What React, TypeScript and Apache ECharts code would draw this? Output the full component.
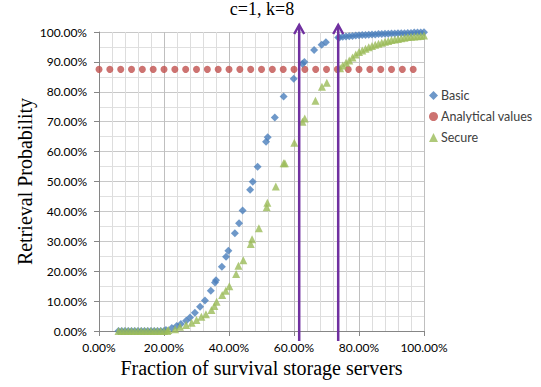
import React, { useEffect, useRef } from "react";
import * as echarts from "echarts";

const chartTitle = "c=1, k=8";
const xAxisTitle = "Fraction of survival storage servers";
const yAxisTitle = "Retrieval Probability";
const seriesNames = ["Basic", "Analytical values", "Secure"];

const basicX = [
  0.06, 0.07, 0.08, 0.09, 0.10, 0.11, 0.12, 0.13, 0.14, 0.15, 0.16, 0.17, 0.18, 0.19, 0.20,
  0.206, 0.224, 0.239, 0.252, 0.268, 0.28, 0.295, 0.311, 0.326, 0.344, 0.357, 0.36, 0.378,
  0.391, 0.398, 0.418, 0.431, 0.442, 0.465, 0.473, 0.488, 0.514, 0.519, 0.541, 0.568, 0.599,
  0.626, 0.632, 0.662, 0.685, 0.698, 0.736,
  0.74, 0.75, 0.76, 0.77, 0.78, 0.79, 0.80, 0.81, 0.82, 0.83, 0.84, 0.85, 0.86, 0.87, 0.88,
  0.89, 0.90, 0.91, 0.92, 0.93, 0.94, 0.95, 0.96, 0.97, 0.98, 0.99, 1.0,
];
const basicY = [
  0, 0, 0, 0, 0, 0, 0, 0, 0, 0, 0, 0, 0, 0, 0,
  0.003, 0.01, 0.017, 0.023, 0.034, 0.045, 0.061, 0.081, 0.102, 0.135, 0.162, 0.17, 0.215,
  0.248, 0.268, 0.327, 0.36, 0.403, 0.472, 0.499, 0.549, 0.633, 0.648, 0.714, 0.784, 0.844,
  0.894, 0.9, 0.94, 0.957, 0.966, 0.982,
  0.982, 0.984, 0.985, 0.986, 0.987, 0.988, 0.989, 0.99, 0.99, 0.991, 0.992, 0.992, 0.993,
  0.993, 0.994, 0.994, 0.995, 0.995, 0.996, 0.996, 0.996, 0.997, 0.997, 0.998, 0.998, 0.998,
  0.999,
];

const analyticX = [
  0, 1 / 30, 2 / 30, 3 / 30, 4 / 30, 5 / 30, 6 / 30, 7 / 30, 8 / 30, 9 / 30, 10 / 30,
  11 / 30, 12 / 30, 13 / 30, 14 / 30, 15 / 30, 16 / 30, 17 / 30, 18 / 30, 19 / 30, 20 / 30,
  21 / 30, 22 / 30, 23 / 30, 24 / 30, 25 / 30, 26 / 30, 27 / 30, 28 / 30, 29 / 30,
];
const analyticY = analyticX.map(() => 0.875);

const secureX = [
  0.06, 0.07, 0.08, 0.09, 0.10, 0.11, 0.12, 0.13, 0.14, 0.15, 0.16, 0.17, 0.18, 0.19, 0.20,
  0.21, 0.213, 0.234, 0.249, 0.268, 0.285, 0.30, 0.315, 0.329, 0.346, 0.355, 0.362, 0.379,
  0.39, 0.401, 0.422, 0.429, 0.444, 0.467, 0.471, 0.492, 0.516, 0.518, 0.544, 0.568, 0.572,
  0.601, 0.626, 0.633, 0.666, 0.686, 0.701, 0.742,
  0.75, 0.76, 0.77, 0.78, 0.79, 0.80, 0.81, 0.82, 0.83, 0.84, 0.85, 0.86, 0.87, 0.88, 0.89,
  0.90, 0.91, 0.92, 0.93, 0.94, 0.95, 0.96, 0.97, 0.98, 0.99, 1.0,
];
const secureY = [
  0, 0, 0, 0, 0, 0, 0, 0, 0, 0, 0, 0, 0, 0, 0,
  0, 0.003, 0.006, 0.014, 0.02, 0.028, 0.037, 0.048, 0.056, 0.07, 0.084, 0.098, 0.12,
  0.135, 0.15, 0.191, 0.218, 0.237, 0.291, 0.307, 0.344, 0.414, 0.429, 0.483, 0.561, 0.561,
  0.63, 0.7, 0.711, 0.77, 0.817, 0.83, 0.879,
  0.888, 0.897, 0.905, 0.915, 0.925, 0.933, 0.938, 0.944, 0.949, 0.953, 0.957, 0.961, 0.964,
  0.967, 0.97, 0.973, 0.975, 0.977, 0.979, 0.981, 0.983, 0.984, 0.985, 0.986, 0.987, 0.988,
];

const arrowX = [0.616, 0.736];

const zip = (xs: number[], ys: number[]) => xs.map((x, i) => [x, ys[i]]);
const pct = (v: number) => (v * 100).toFixed(2) + "%";

export default function App() {
  const ref = useRef<HTMLDivElement>(null);

  useEffect(() => {
    if (!ref.current) return;
    const chart = echarts.init(ref.current, undefined, { renderer: "svg" });
    const sans = "Lato, 'Liberation Sans', sans-serif";
    const serif = "'Liberation Serif', 'DejaVu Serif', serif";
    chart.setOption({
      animation: false,
      backgroundColor: "#ffffff",
      grid: { left: 99, right: 117, top: 32, bottom: 56 },
      legend: {
        orient: "vertical",
        left: 424,
        top: 84,
        itemGap: 8,
        itemWidth: 9,
        itemHeight: 9,
        textStyle: { fontFamily: sans, fontSize: 12.5, color: "#404040", padding: [0, 0, 0, -2] },
        data: seriesNames,
      },
      xAxis: {
        type: "value",
        min: 0,
        max: 1,
        interval: 0.2,
        name: xAxisTitle,
        nameLocation: "middle",
        nameGap: 27,
        nameMoveOverlap: false,
        nameTextStyle: { fontFamily: serif, fontSize: 20, color: "#000" },
        axisLine: { show: true, lineStyle: { color: "#868686" } },
        axisTick: { show: true, length: 5, lineStyle: { color: "#868686" } },
        axisLabel: { formatter: pct, fontFamily: sans, fontSize: 12, color: "#000", margin: 10 },
        splitLine: { show: true, lineStyle: { color: "#BFBFBF", width: 1 } },
        minorTick: { show: false, splitNumber: 5 },
        minorSplitLine: { show: true, lineStyle: { color: "#DDDDDD", width: 1 } },
      },
      yAxis: {
        type: "value",
        min: 0,
        max: 1,
        interval: 0.1,
        name: yAxisTitle,
        nameLocation: "middle",
        nameGap: 64,
        nameMoveOverlap: false,
        nameTextStyle: { fontFamily: serif, fontSize: 20, color: "#000" },
        axisLine: { show: true, lineStyle: { color: "#868686" } },
        axisTick: { show: true, length: 5, lineStyle: { color: "#868686" } },
        axisLabel: { formatter: pct, fontFamily: sans, fontSize: 12, color: "#000", margin: 12 },
        splitLine: { show: true, lineStyle: { color: "#C8C8C8", width: 1 } },
        minorTick: { show: false, splitNumber: 2 },
        minorSplitLine: { show: true, lineStyle: { color: "#E0E0E0", width: 1 } },
      },
      series: [
        {
          name: seriesNames[0],
          type: "scatter",
          symbol: "diamond",
          symbolSize: 8,
          itemStyle: { color: "#4A7EBB" },
          data: zip(basicX, basicY),
          z: 3,
        },
        {
          name: seriesNames[1],
          type: "scatter",
          symbol: "circle",
          symbolSize: 7,
          itemStyle: { color: "#C0504D" },
          data: zip(analyticX, analyticY),
          z: 2,
        },
        {
          name: seriesNames[2],
          type: "scatter",
          symbol: "triangle",
          symbolSize: 8,
          itemStyle: { color: "#9BBB59" },
          data: zip(secureX, secureY),
          z: 4,
        },
      ],
    });

    const graphics: any[] = [
      {
        type: "text",
        x: 262,
        y: 0,
        style: {
          text: chartTitle,
          font: "18px 'Liberation Serif', serif",
          fill: "#000",
          textAlign: "center",
        },
      },
    ];
    arrowX.forEach((ax) => {
      const bottom = chart.convertToPixel({ xAxisIndex: 0, yAxisIndex: 0 }, [ax, 0]) as number[];
      const top = chart.convertToPixel({ xAxisIndex: 0, yAxisIndex: 0 }, [ax, 1]) as number[];
      const px = bottom[0];
      graphics.push({
        type: "line",
        z: 100,
        shape: { x1: px, y1: bottom[1] + 10, x2: px, y2: top[1] - 6 },
        style: { stroke: "#7030A0", lineWidth: 2.5 },
      });
      graphics.push({
        type: "polyline",
        z: 100,
        shape: {
          points: [
            [px - 5, top[1] + 2],
            [px, top[1] - 7],
            [px + 5, top[1] + 2],
          ],
        },
        style: { stroke: "#7030A0", lineWidth: 2.5, fill: null },
      });
    });
    chart.setOption({ graphic: graphics });

    return () => chart.dispose();
  }, []);

  return (
    <div
      ref={ref}
      style={{ position: "fixed", left: 0, top: 0, width: 541, height: 387, background: "#fff" }}
    />
  );
}
